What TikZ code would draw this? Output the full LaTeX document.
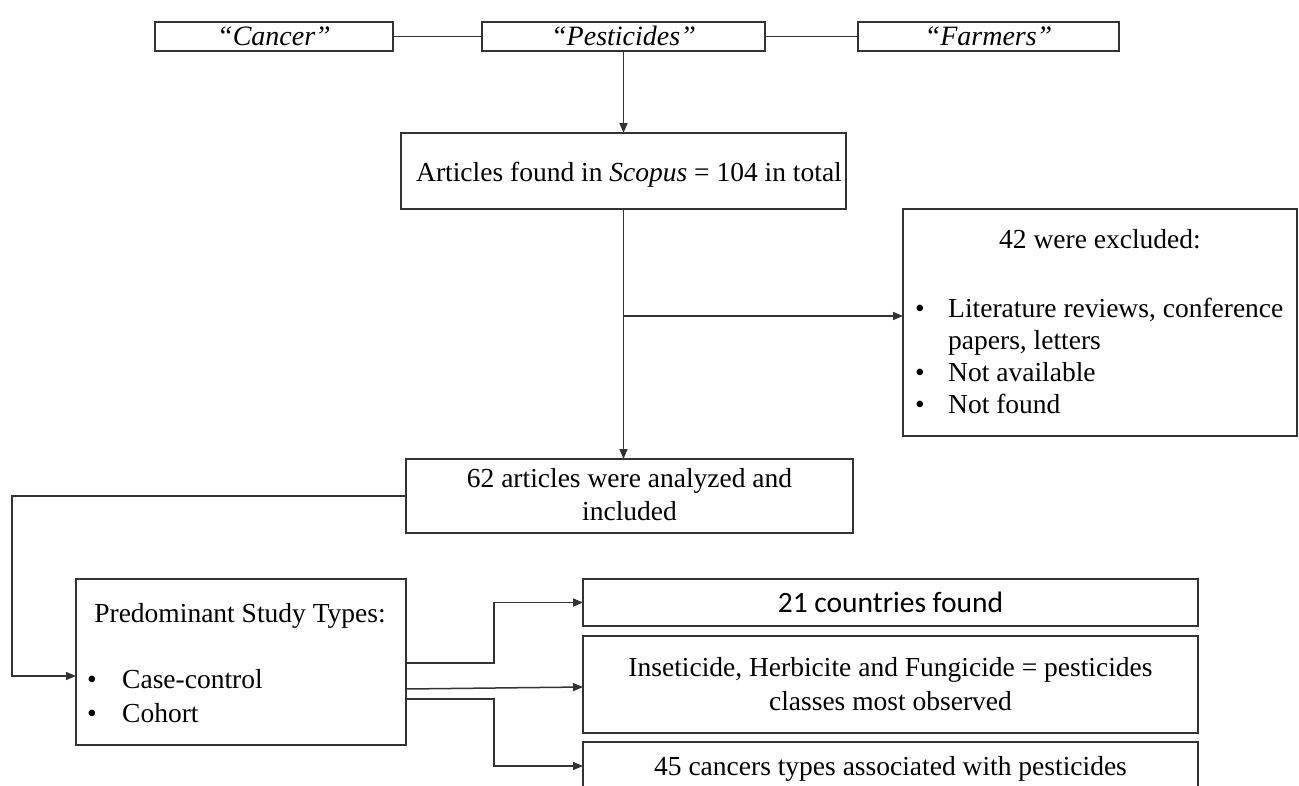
\documentclass[tikz,border=0pt]{standalone}
\usepackage{fontspec}
\setmainfont{Liberation Serif}
\newfontfamily\calfont{Carlito}
\usetikzlibrary{arrows.meta}
\begin{document}
\begin{tikzpicture}[x=1pt,y=-1pt,
  box/.style={draw=black!80, line width=1.5pt, inner sep=0pt, outer sep=0pt, rectangle},
  conn/.style={draw=black!80, line width=1.5pt},
  arr/.style={conn, -{Triangle[length=10pt,width=8pt]}},
  txt/.style={inner sep=0pt, anchor=base, font=\fontsize{27.5}{31}\selectfont},
  txl/.style={txt, anchor=base west}]
\useasboundingbox (0,0) rectangle (1299,785);
\clip (0,0) rectangle (1299,785);
% boxes
\node[box, minimum width=238pt, minimum height=29pt] (cancer) at (274,36.5) {};
\node[box, minimum width=283pt, minimum height=29pt] (pest) at (623.5,36.5) {};
\node[box, minimum width=261pt, minimum height=29pt] (farm) at (988.5,36.5) {};
\node[box, minimum width=445pt, minimum height=76pt] (art) at (623.5,171) {};
\node[box, minimum width=394pt, minimum height=227pt] (excl) at (1100,322.5) {};
\node[box, minimum width=447pt, minimum height=74pt] (inc) at (629.5,496) {};
\node[box, minimum width=330pt, minimum height=166pt] (pred) at (241,662) {};
\node[box, minimum width=615pt, minimum height=47pt] (cty) at (890.5,602.5) {};
\node[box, minimum width=615pt, minimum height=97pt] (cls) at (890.5,684.5) {};
\node[box, minimum width=615pt, minimum height=60pt] (cnc) at (890.5,772) {};
% texts
\node[txt, font=\fontsize{28}{31}\selectfont] (tcancer) at (274,45.5) {\textit{“Cancer”}};
\node[txt, font=\fontsize{28}{31}\selectfont] (tpest) at (623.5,45.5) {\textit{“Pesticides”}};
\node[txt, font=\fontsize{28}{31}\selectfont] (tfarm) at (988.5,45.5) {\textit{“Farmers”}};
\node[txt] (tart) at (629,181) {Articles found in \textit{Scopus} = 104 in total};
\node[txt] (texcl) at (1100,248) {42 were excluded:};
\node[txt] (b1) at (920,317) {•};
\node[txt] (b2) at (920,381.5) {•};
\node[txt] (b3) at (920,413.5) {•};
\node[txl] (e1) at (948,317) {Literature reviews, conference};
\node[txl] (e2) at (948,349) {papers, letters};
\node[txl] (e3) at (948,381.5) {Not available};
\node[txl] (e4) at (948,413.5) {Not found};
\node[txt] (i1) at (629.5,487.5) {62 articles were analyzed and};
\node[txt] (i2) at (629.5,520.5) {included};
\node[txt] (ptitle) at (240,622.5) {Predominant Study Types:};
\node[txt] (b4) at (92,688) {•};
\node[txt] (b5) at (92,722) {•};
\node[txl] (p1) at (122,688) {Case-control};
\node[txl] (p2) at (122,722) {Cohort};
\node[txt, font=\calfont\fontsize{29.5}{31}\selectfont] (tcty) at (890.5,612) {21 countries found};
\node[txt] (c1) at (890.5,676.5) {Inseticide, Herbicite and Fungicide = pesticides};
\node[txt] (c2) at (890.5,710.5) {classes most observed};
\node[txt] (tcnc) at (890.5,775.5) {45 cancers types associated with pesticides};
% connectors
\draw[conn] (cancer.east) -- (pest.west);
\draw[conn] (pest.east) -- (farm.west);
\draw[arr] (pest.south) -- (art.north);
\draw[arr] (art.south) -- (art.south |- inc.north);
\coordinate (br) at (623.5,316);
\draw[arr] (br) -- (br -| excl.west);
\coordinate (lft) at (12,0);
\draw[arr] (inc.west) -- (inc.west -| lft) |- (pred.west |- 0,676);
\coordinate (mid) at (494,0);
\draw[arr] (pred.east |- 0,663) -- (mid |- 0,663) |- (cty.west);
\draw[arr] (pred.east |- 0,689) -- (cls.west |- 0,687);
\draw[arr] (pred.east |- 0,699) -- (mid |- 0,699) |- (cnc.west |- 0,766);
\end{tikzpicture}
\end{document}
